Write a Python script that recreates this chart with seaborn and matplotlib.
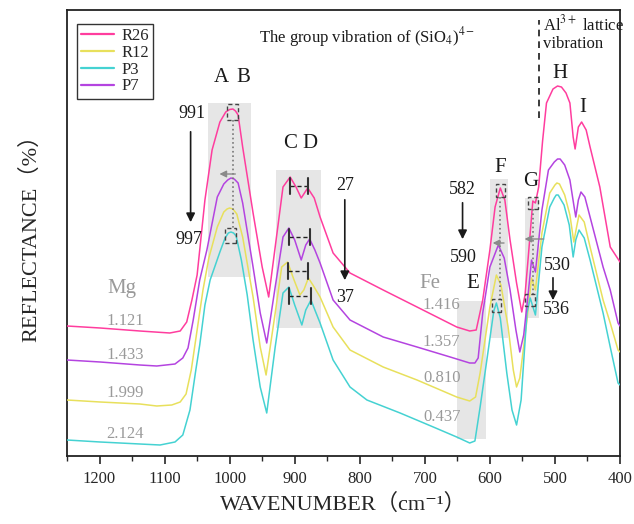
import numpy as np
import pandas as pd
import matplotlib
matplotlib.use("Agg")
import matplotlib.pyplot as plt
import seaborn as sns
from matplotlib.patches import Rectangle
from matplotlib.ticker import MultipleLocator

# ------------------------------
# 1. Spectra (wavenumber in cm-1, reflectance in %)
# ------------------------------
r26_wn = [1250, 1199, 1138, 1092, 1076, 1066, 1058, 1050, 1038, 1027, 1015, 1006, 1000, 995, 991,
          987, 980, 964, 950, 940, 930, 918, 907, 898, 890, 880, 870, 861, 841, 815, 764, 712,
          651, 631, 621, 611, 600, 592, 584, 577, 569, 559, 551, 546, 541, 534, 530, 525, 519,
          513, 503, 496, 490, 483, 477, 472, 469, 464, 459, 452, 446, 431, 415, 400]
r26_ref = [13.0, 12.8, 12.5, 12.3, 12.5, 13.4, 15.6, 18.1, 25.6, 30.6, 33.4, 34.4, 34.65, 34.7, 34.5,
           34.1, 30.9, 24.3, 18.9, 15.9, 20.9, 26.9, 27.9, 26.9, 25.8, 26.8, 25.8, 23.9, 20.3, 18.3,
           16.6, 14.9, 12.9, 12.5, 12.6, 15.6, 20.6, 24.9, 26.8, 25.6, 21.6, 17.3, 14.4, 16.1, 19.9,
           25.5, 25.3, 26.9, 31.5, 35.3, 36.7, 37.0, 36.9, 36.3, 35.3, 31.9, 30.7, 32.9, 33.4, 32.6,
           30.9, 26.9, 20.9, 19.4]

p7_wn = [1250, 1199, 1138, 1112, 1084, 1072, 1064, 1056, 1046, 1035, 1019, 1009, 1003, 998, 993,
         987, 980, 964, 953, 943, 930, 918, 909, 900, 890, 883, 877, 869, 861, 841, 815, 764,
         712, 661, 631, 623, 618, 611, 600, 587, 578, 569, 560, 554, 548, 541, 536, 530, 520,
         510, 501, 496, 492, 485, 477, 471, 468, 464, 460, 454, 446, 426, 415, 403, 400]
p7_ref = [9.6, 9.4, 9.1, 9.0, 9.2, 9.8, 10.8, 13.6, 17.6, 20.6, 25.9, 27.2, 27.6, 27.8, 27.7,
          27.3, 25.3, 18.9, 14.3, 11.3, 16.9, 21.9, 22.8, 21.6, 19.6, 21.1, 21.7, 20.6, 19.3, 15.6,
          13.6, 11.9, 10.9, 9.9, 9.3, 9.3, 9.8, 14.3, 18.9, 21.1, 19.8, 16.6, 12.6, 10.4, 12.1,
          16.3, 19.6, 18.4, 24.6, 28.6, 29.4, 29.7, 29.7, 29.1, 27.6, 25.1, 23.9, 25.6, 26.4, 25.9,
          23.9, 18.9, 16.6, 13.3, 13.0]

r12_wn = [1250, 1199, 1138, 1112, 1089, 1076, 1067, 1059, 1050, 1041, 1032, 1019, 1009, 1004, 1000,
          995, 989, 980, 964, 953, 944, 930, 920, 911, 901, 892, 886, 879, 872, 861, 841, 815,
          764, 712, 651, 631, 622, 615, 600, 590, 583, 572, 564, 559, 554, 543, 536, 530, 520,
          508, 500, 497, 493, 485, 477, 471, 467, 463, 455, 446, 426, 415, 403, 400]
r12_ref = [5.6, 5.4, 5.2, 5.0, 5.1, 5.4, 6.2, 8.6, 12.6, 16.6, 19.8, 22.9, 24.4, 24.7, 24.8,
           24.7, 24.2, 21.9, 15.9, 10.9, 8.1, 14.3, 18.9, 19.4, 17.6, 16.1, 16.6, 17.8, 17.1, 15.9,
           12.9, 10.6, 8.9, 7.6, 5.9, 5.5, 5.9, 8.3, 14.9, 18.1, 17.1, 12.9, 8.6, 6.9, 7.8, 13.6,
           17.8, 16.6, 22.3, 26.3, 27.1, 27.3, 27.2, 26.1, 24.1, 21.4, 22.8, 24.1, 23.4, 20.9, 15.6,
           13.3, 10.6, 10.4]

p3_wn = [1250, 1199, 1138, 1107, 1084, 1072, 1061, 1052, 1046, 1038, 1030, 1023, 1015, 1007, 1002,
         998, 994, 990, 982, 973, 964, 953, 943, 930, 918, 909, 900, 889, 883, 875, 869, 861,
         841, 815, 789, 738, 687, 651, 631, 623, 615, 604, 594, 590, 584, 574, 566, 559, 552,
         543, 538, 530, 520, 508, 501, 498, 495, 486, 478, 472, 468, 463, 455, 446, 426, 415,
         403, 400]
p3_ref = [1.6, 1.4, 1.2, 1.1, 1.4, 2.1, 4.6, 8.6, 11.1, 15.1, 17.6, 18.9, 20.4, 21.8, 22.3,
          22.4, 22.3, 22.0, 19.6, 16.1, 11.6, 6.9, 4.3, 10.9, 16.3, 16.9, 15.1, 13.1, 14.6, 15.6,
          14.6, 13.3, 9.6, 6.9, 5.6, 4.3, 2.9, 1.9, 1.3, 1.5, 4.9, 9.9, 14.5, 15.3, 13.8, 8.3,
          4.6, 3.1, 5.6, 14.3, 15.8, 14.1, 20.9, 24.9, 25.8, 26.1, 26.1, 25.1, 23.1, 19.9, 21.6,
          22.6, 21.8, 19.6, 14.3, 10.9, 7.3, 7.1]

samples = ["R26", "R12", "P3", "P7"]
colors = {"R26": "#ff3d9e", "R12": "#e8e05c", "P3": "#45d2d2", "P7": "#b444e0"}

mg_labels = ["1.121", "1.433", "1.999", "2.124"]
fe_labels = ["1.416", "1.357", "0.810", "0.437"]

spectra = {"R26": (r26_wn, r26_ref), "R12": (r12_wn, r12_ref),
           "P3": (p3_wn, p3_ref), "P7": (p7_wn, p7_ref)}

dfs = []
for name in samples:
    wn, ref = spectra[name]
    dfs.append(pd.DataFrame({"Wavenumber": wn, "Reflectance": ref, "Sample": name}))
df = pd.concat(dfs, ignore_index=True)


def peak(name, lo, hi):
    wn, ref = (np.asarray(a, float) for a in spectra[name])
    m = (wn >= lo) & (wn <= hi)
    i = np.argmax(ref[m])
    return wn[m][i], ref[m][i]


# ------------------------------
# 2. Plot
# ------------------------------
sns.set_style("ticks")
fonts = ['Liberation Serif', 'DejaVu Serif', 'Noto Sans CJK SC']
plt.rcParams['font.family'] = fonts
plt.rcParams['mathtext.fontset'] = 'stix'

fig = plt.figure(figsize=(6.34, 5.24), dpi=100)
ax = fig.add_axes([67/634, 68/524, 553/634, 446/524])

sns.lineplot(data=df, x="Wavenumber", y="Reflectance", hue="Sample", hue_order=samples,
             palette=colors, estimator=None, sort=False, lw=1.1, ax=ax, zorder=3)

ax.set_xlim(1250, 400)
ax.set_ylim(0, 44.6)
ax.set_yticks([])
ax.set_xticks(range(1200, 399, -100))
ax.xaxis.set_minor_locator(MultipleLocator(50))
ax.tick_params(axis='x', which='major', direction='out', length=6, width=1.2, labelsize=12, pad=5)
ax.tick_params(axis='x', which='minor', direction='out', length=3.5, width=1.0)
for s in ax.spines.values():
    s.set_linewidth(1.3)
    s.set_color('#222222')

ax.set_xlabel("WAVENUMBER（cm⁻¹）", fontsize=16, family=fonts)
ax.set_ylabel("REFLECTANCE（%）", fontsize=16, family=fonts)
ax.xaxis.set_label_coords(0.5, -0.085)
ax.yaxis.set_label_coords(-0.047, 0.5)

leg = ax.legend(loc='upper left', bbox_to_anchor=(0.018, 0.969), borderaxespad=0,
                fontsize=12, handlelength=2.0, handletextpad=0.4, borderpad=0.25,
                labelspacing=0.05, fancybox=False, framealpha=1)
leg.get_frame().set_edgecolor('#333333')
leg.get_frame().set_linewidth(1.0)
for line in leg.get_lines():
    line.set_linewidth(1.6)

# shaded bands
shade = '#e6e6e6'
for x0, x1, y0, y1 in [(967, 1033, 17.9, 35.3), (860, 929, 12.8, 28.6),
                       (606, 650, 1.7, 15.5), (572, 600, 11.8, 27.7), (524, 546, 13.8, 25.8)]:
    ax.add_patch(Rectangle((x0, y0), x1 - x0, y1 - y0, color=shade, lw=0, zorder=1))

ink = '#1a1a1a'
gray_txt = '#9a9a9a'


def square(x, top, w, h):
    ax.add_patch(Rectangle((x - w/2, top - h), w, h, fill=False, ls=(0, (3, 2)),
                           ec='#444444', lw=1.0, zorder=5))


def shift_marks(up, low, lo_a, hi_a, lo_b, hi_b, w, h):
    ux, uv = peak(up, lo_a, hi_a)
    lx, lv = peak(low, lo_b, hi_b)
    square(ux, uv + 0.45, w, h)
    square(lx, lv + 0.45, w, h)
    ax.plot([ux, ux], [uv + 0.45 - h, lv + 0.45], ls=':', color='#777777', lw=1.2, zorder=4)


shift_marks("R26", "P3", 960, 1030, 960, 1030, 17, 1.55)
shift_marks("R26", "P3", 575, 600, 580, 600, 13, 1.3)
shift_marks("R26", "P3", 528, 540, 532, 545, 15, 1.2)


def gray_arrow(x_from, x_to, y):
    ax.annotate('', xy=(x_to, y), xytext=(x_from, y),
                arrowprops=dict(arrowstyle='-|>', color='#8a8a8a', lw=1.0, mutation_scale=10),
                zorder=6)


gray_arrow(987, 1020, 28.2)
gray_arrow(574, 600, 21.3)
gray_arrow(513, 551, 21.7)

# C / D doublet markers
for name in samples:
    cx, cv = peak(name, 895, 920)
    dx, dv = peak(name, 870, 890)
    lev = cv - 0.85
    ax.plot([cx, dx], [lev, lev], ls=(0, (3, 2)), color='#222222', lw=1.0, zorder=5)
    for x in (cx, dx):
        ax.plot([x, x], [lev - 0.8, lev + 0.8], color='#333333', lw=1.5, zorder=5)


def black_arrow(x, y0, y1):
    ax.annotate('', xy=(x, y1), xytext=(x, y0),
                arrowprops=dict(arrowstyle='-|>', color=ink, lw=1.2, mutation_scale=13),
                zorder=6)


black_arrow(1060, 32.7, 23.1)
black_arrow(823, 25.9, 17.3)
black_arrow(642, 25.6, 21.4)
black_arrow(503, 18.1, 15.3)

txt = dict(color=ink, ha='center', va='center', zorder=7)
ax.text(1058, 34.3, "991", fontsize=13, **txt)
ax.text(1062, 21.7, "997", fontsize=13, **txt)
ax.text(823, 27.1, "27", fontsize=13, **txt)
ax.text(823, 15.9, "37", fontsize=13, **txt)
ax.text(642, 26.7, "582", fontsize=13, **txt)
ax.text(641, 19.9, "590", fontsize=13, **txt)
ax.text(497, 19.1, "530", fontsize=13, **txt)
ax.text(498, 14.6, "536", fontsize=13, **txt)

for lab, x, y in [("A", 1012, 37.9), ("B", 979, 37.9), ("C", 907, 31.3), ("D", 877, 31.3),
                  ("E", 626, 17.3), ("F", 584, 28.9), ("G", 537, 27.5), ("H", 493, 38.3),
                  ("I", 457, 34.8)]:
    ax.text(x, y, lab, fontsize=15, **txt)

ax.text(1166, 16.8, "Mg", fontsize=15, color=gray_txt, ha='center', va='center')
ax.text(692, 17.3, "Fe", fontsize=15, color=gray_txt, ha='center', va='center')
for lab, y in zip(mg_labels, [13.5, 10.1, 6.3, 2.2]):
    ax.text(1161, y, lab, fontsize=12, color=gray_txt, ha='center', va='center')
for lab, y in zip(fe_labels, [15.1, 11.4, 7.8, 3.9]):
    ax.text(674, y, lab, fontsize=12, color=gray_txt, ha='center', va='center')

ax.text(789, 41.9, "The group vibration of (SiO$_4$)$^{4-}$", fontsize=12, **txt)
ax.plot([524, 524], [33.8, 43.6], ls=(0, (4, 3)), color=ink, lw=1.2, zorder=5)
ax.text(518, 44.2, "Al$^{3+}$ lattice\nvibration", fontsize=12, color=ink,
        ha='left', va='top', linespacing=1.15, zorder=7)

fig.savefig("out.png", dpi=100)
